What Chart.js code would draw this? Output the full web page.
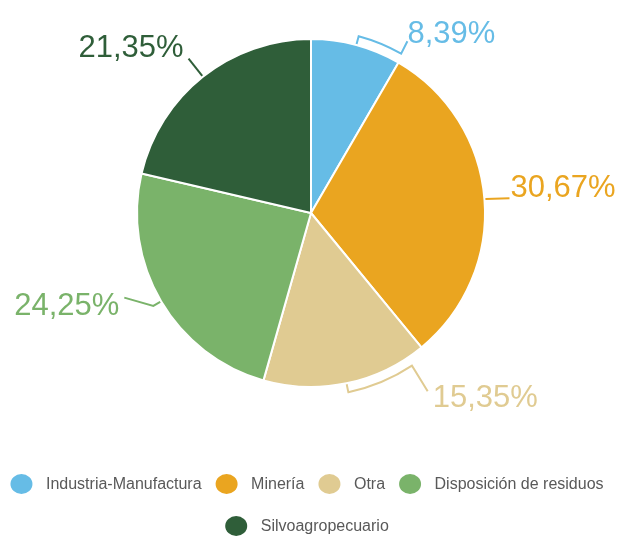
<!DOCTYPE html>
<html>
<head>
<meta charset="utf-8">
<script src="https://cdn.jsdelivr.net/npm/chart.js@4/dist/chart.umd.min.js"></script>
<style>
  html, body { margin: 0; padding: 0; background: #ffffff; }
  canvas { display: block; }
</style>
</head>
<body>
<canvas id="chart" width="624" height="539"></canvas>
<script>
// Emission shares by sector (%)
const categories = ['Industria-Manufactura', 'Minería', 'Otra', 'Disposición de residuos', 'Silvoagropecuario'];
const shares = [8.39, 30.67, 15.35, 24.25, 21.35];
const sliceColors = ['#66BCE6', '#EAA520', '#E0CB92', '#7AB36A', '#2F5E39'];

// Percentage text shown next to each slice, written with a decimal comma
const formatShare = v => v.toFixed(2).replace('.', ',') + '%';

// Leader line styling per slice: angles are fractions of the slice sweep,
// radial distances are measured beyond the outer radius.
const leaderStyles = [
  { tick: 9, bracketTo: 0.977, tipAt: 0.97, tipOut: 23, dx: 0, dy: 2, align: 'left' },
  { tick: 0, bracketTo: null, tipAt: 0.503, tipOut: 25, dx: 1, dy: -1, align: 'left' },
  { tick: 9, bracketTo: 0.107, tipAt: 0.112, tipOut: 39, dx: 5, dy: 16, align: 'left' },
  { tick: 9, bracketTo: null, tipAt: 0.57, tipOut: 31, dx: -5, dy: 17, align: 'right' },
  { tick: 0, bracketTo: null, tipAt: 0.5, tipOut: 23, dx: -5, dy: -2, align: 'right' }
];

const FONT = '"Liberation Sans", Arial, Helvetica, sans-serif';

const sliceLabels = {
  id: 'sliceLabels',
  afterDatasetsDraw(chart) {
    const ctx = chart.ctx;
    const meta = chart.getDatasetMeta(0);
    ctx.save();
    meta.data.forEach((arc, i) => {
      const st = leaderStyles[i];
      const { x: cx, y: cy, startAngle, endAngle, outerRadius: R } = arc.getProps(['x', 'y', 'startAngle', 'endAngle', 'outerRadius'], true);
      const at = f => startAngle + (endAngle - startAngle) * f;
      const polar = (a, r) => [cx + r * Math.cos(a), cy + r * Math.sin(a)];
      const color = sliceColors[i];
      const aMid = at(0.5);

      ctx.strokeStyle = color;
      ctx.lineWidth = 2;
      ctx.lineJoin = 'miter';
      ctx.beginPath();
      let p = polar(aMid, R + 1);
      ctx.moveTo(p[0], p[1]);
      if (st.tick) {
        p = polar(aMid, R + st.tick);
        ctx.lineTo(p[0], p[1]);
        if (st.bracketTo !== null) {
          const aTo = at(st.bracketTo);
          ctx.arc(cx, cy, R + st.tick, aMid, aTo, aTo < aMid);
        }
      }
      const tip = polar(at(st.tipAt), R + st.tipOut);
      ctx.lineTo(tip[0], tip[1]);
      ctx.stroke();

      ctx.fillStyle = color;
      ctx.font = '31px ' + FONT;
      ctx.textAlign = st.align;
      ctx.textBaseline = 'alphabetic';
      ctx.fillText(formatShare(shares[i]), tip[0] + st.dx, tip[1] + st.dy);
    });
    ctx.restore();
  }
};

// Legend below the pie: filled circles followed by the sector name, wrapped in centred rows
const bottomLegend = {
  id: 'bottomLegend',
  afterDraw(chart) {
    const ctx = chart.ctx;
    const fontSize = 16;
    const markerRx = 11, markerRy = 10;
    const textGap = 24.5;   // marker centre to text start
    const itemGap = 25;     // text end to next marker centre
    const maxRow = 600;
    const centreX = 307;
    const firstRowY = 484;
    const rowStep = 42;

    ctx.save();
    ctx.font = fontSize + 'px ' + FONT;
    const items = categories.map((name, i) => ({ name, color: sliceColors[i], w: ctx.measureText(name).width }));

    const rows = [];
    let row = [], rowW = 0;
    items.forEach(it => {
      const need = row.length ? itemGap + textGap + it.w : markerRx + textGap + it.w;
      if (row.length && rowW + need > maxRow) {
        rows.push({ row, rowW });
        row = []; rowW = 0;
        rowW = markerRx + textGap + it.w;
      } else {
        rowW += need;
      }
      row.push(it);
    });
    if (row.length) rows.push({ row, rowW });

    rows.forEach((r, ri) => {
      const y = firstRowY + ri * rowStep;
      let x = centreX - r.rowW / 2 + markerRx;
      r.row.forEach(it => {
        ctx.fillStyle = it.color;
        ctx.beginPath();
        ctx.ellipse(x, y, markerRx, markerRy, 0, 0, Math.PI * 2);
        ctx.fill();
        ctx.fillStyle = '#595959';
        ctx.textAlign = 'left';
        ctx.textBaseline = 'middle';
        ctx.fillText(it.name, x + textGap, y + 1);
        x += textGap + it.w + itemGap;
      });
    });
    ctx.restore();
  }
};

new Chart(document.getElementById('chart'), {
  type: 'pie',
  data: {
    labels: categories,
    datasets: [{
      data: shares,
      backgroundColor: sliceColors,
      borderColor: '#ffffff',
      borderWidth: 2
    }]
  },
  options: {
    responsive: false,
    devicePixelRatio: 1,
    animation: false,
    layout: { padding: { top: 38, bottom: 151, left: 0, right: 2 } },
    plugins: {
      legend: { display: false },
      tooltip: { enabled: false }
    }
  },
  plugins: [sliceLabels, bottomLegend]
});
</script>
</body>
</html>
